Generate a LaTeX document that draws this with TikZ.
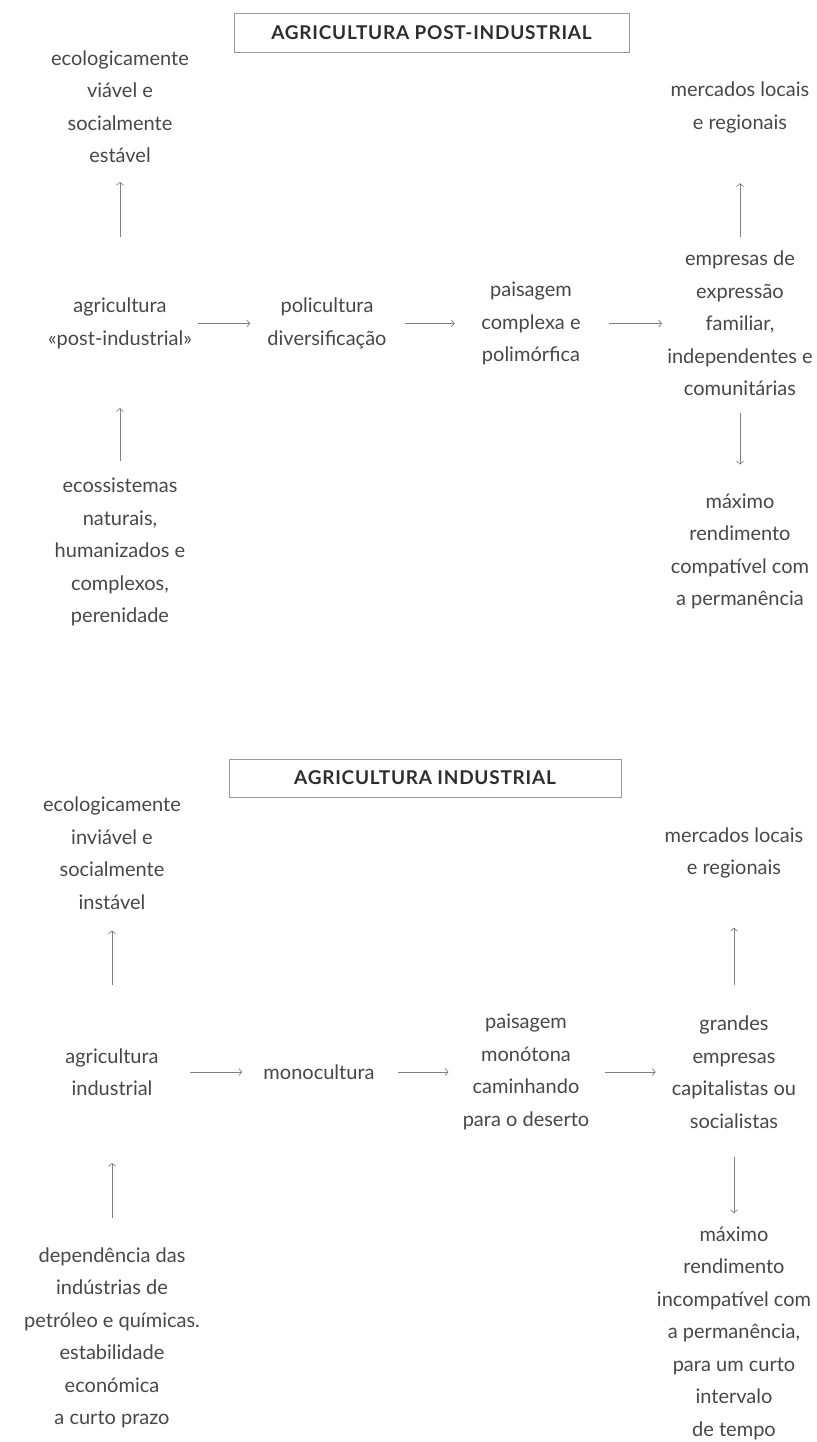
\documentclass[tikz,border=0pt]{standalone}
\usepackage{fontspec}
\setmainfont{Lato}
\usetikzlibrary{positioning,arrows.meta}

\begin{document}
\begin{tikzpicture}[x=1pt, y=1pt, on grid,
    txt/.style={align=center, inner sep=0pt, text=black!72,
      font=\fontsize{20}{32.5}\selectfont},
    ttl/.style={draw=black!40, line width=0.8pt, minimum width=395pt,
      minimum height=39pt, text=black!82,
      font=\fontsize{19}{22}\selectfont\bfseries\addfontfeatures{LetterSpace=4}},
    arr/.style={draw=black!50, line width=0.7pt,
      -{Straight Barb[length=3pt,width=7pt]}}]
      \useasboundingbox (0,0) rectangle (816,-1442);

      \node[ttl] (tt1) at (431.5,-33) {AGRICULTURA POST-INDUSTRIAL};

      \node[txt] (ag1) at (120,-323.5) {agricultura\\«post-industrial»};
      \node[txt, above=217pt of ag1] (ec1) {ecologicamente\\viável e\\socialmente\\estável};
      \node[txt, below=228.5pt of ag1] (es1) {ecossistemas\\naturais,\\humanizados e\\complexos,\\perenidade};
      \node[txt, right=207pt of ag1] (cu1) {policultura\\diversificação};
      \node[txt, right=204pt of cu1] (pa1) {paisagem\\complexa e\\polimórfica};
      \node[txt, right=209pt of pa1] (em1) {empresas de\\expressão\\familiar,\\independentes e\\comunitárias};
      \node[txt, above=216pt of em1] (mk1) {mercados locais\\e regionais};
      \node[txt, below=228pt of em1] (mx1) {máximo\\rendimento\\compatível com\\a permanência};

      \draw[arr, shorten <=61pt, shorten >=19pt] (ag1) -- (ec1);
      \draw[arr, shorten <=17pt, shorten >=59pt] (es1) -- (ag1);
      \draw[arr, shorten <=5.5pt, shorten >=17pt] (ag1) -- (cu1);
      \draw[arr, shorten <=18pt, shorten >=26.5pt] (cu1) -- (pa1);
      \draw[arr, shorten <=28.5pt, shorten >=5pt] (pa1) -- (em1);
      \draw[arr, shorten <=14pt, shorten >=50pt] (em1) -- (mk1);
      \draw[arr, shorten <=17pt, shorten >=29pt] (em1) -- (mx1);

      \node[ttl, minimum width=392pt, minimum height=38pt] (tt2) at (425,-778) {AGRICULTURA INDUSTRIAL};

      \node[txt] (ag2) at (112,-1072) {agricultura\\industrial};
      \node[txt, above=219pt of ag2] (ec2) {ecologicamente\\inviável e\\socialmente\\instável};
      \node[txt, below=266pt of ag2] (es2) {dependência das\\indústrias de\\petróleo e químicas.\\estabilidade\\económica\\a curto prazo};
      \node[txt, right=207pt of ag2] (cu2) {monocultura};
      \node[txt, right=207pt of cu2] (pa2) {paisagem\\monótona\\caminhando\\para o deserto};
      \node[txt, right=208pt of pa2] (em2) {grandes\\empresas\\capitalistas ou\\socialistas};
      \node[txt, above=219pt of em2] (mk2) {mercados locais\\e regionais};
      \node[txt, below=261pt of em2] (mx2) {máximo\\rendimento\\incompatível com\\a permanência,\\para um curto\\intervalo\\de tempo};

      \draw[arr, shorten <=63pt, shorten >=21pt] (ag2) -- (ec2);
      \draw[arr, shorten <=29pt, shorten >=67pt] (es2) -- (ag2);
      \draw[arr, shorten <=30.7pt, shorten >=21pt] (ag2) -- (cu2);
      \draw[arr, shorten <=23pt, shorten >=14pt] (cu2) -- (pa2);
      \draw[arr, shorten <=16pt, shorten >=16pt] (pa2) -- (em2);
      \draw[arr, shorten <=31pt, shorten >=49pt] (em2) -- (mk2);
      \draw[arr, shorten <=29pt, shorten >=13pt] (em2) -- (mx2);
\end{tikzpicture}
\end{document}
